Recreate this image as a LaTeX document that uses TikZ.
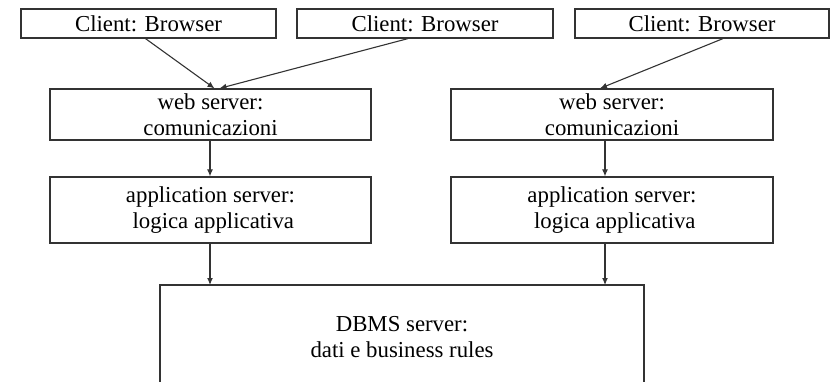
\documentclass[tikz,border=0pt]{standalone}
\usepackage{fontspec}
\setmainfont{Liberation Serif}
\usetikzlibrary{arrows.meta}

\begin{document}
\begin{tikzpicture}[x=1pt,y=-1pt,
    box/.style={draw=black!80, line width=1.2pt, inner sep=0pt, align=center,
        font=\rmfamily\fontsize{22.8}{26}\selectfont},
    arr/.style={draw=black!80, line width=1.1pt, -{Latex[length=7pt,width=6pt]}}]
    \useasboundingbox (0,0) rectangle (830,382);

    % Clients
    \node[box, minimum width=255pt, minimum height=29pt] (client1) at (148.5,23.5) {Client: Browser};
    \node[box, minimum width=256pt, minimum height=29pt] (client2) at (425,23.5) {Client: Browser};
    \node[box, minimum width=254pt, minimum height=29pt] (client3) at (702,23.5) {Client: Browser};

    % Web servers
    \node[box, minimum width=321pt, minimum height=51pt] (web1) at (210.5,114.5) {web server:\\comunicazioni};
    \node[box, minimum width=322pt, minimum height=51pt] (web2) at (612,114.5) {web server:\\comunicazioni};

    % Application servers
    \node[box, minimum width=321pt, minimum height=66pt] (app1) at (210.5,210) {application server:\\\ logica applicativa};
    \node[box, minimum width=322pt, minimum height=66pt] (app2) at (612,210) {application server:\\\ logica applicativa};

    % DBMS server (open at the bottom)
    \coordinate (dbtop) at (402,285);
    \draw[draw=black!80, line width=1.2pt] (160,382) -- (160,285) -- (644,285) -- (644,382);
    \node[font=\rmfamily\fontsize{22.8}{26}\selectfont, align=center] (dbms) at (402,337) {DBMS server:\\dati e business rules};

    % Connections
    \draw[arr] ([xshift=-3pt]client1.south) -- ([xshift=4pt]web1.north);
    \draw[arr] ([xshift=-17pt]client2.south) -- ([xshift=9pt]web2.north -| web1.north);
    \draw[arr] ([xshift=21pt]client3.south) -- ([xshift=-12pt]web2.north);
    \draw[arr] ([xshift=-0.5pt]web1.south) -- ([xshift=-0.5pt]app1.north);
    \draw[arr] ([xshift=-7pt]web2.south) -- ([xshift=-7pt]app2.north);
    \draw[arr] ([xshift=-0.5pt]app1.south) -- ([xshift=-0.5pt]app1.south |- dbtop);
    \draw[arr] ([xshift=-7pt]app2.south) -- ([xshift=-7pt]app2.south |- dbtop);
\end{tikzpicture}
\end{document}
